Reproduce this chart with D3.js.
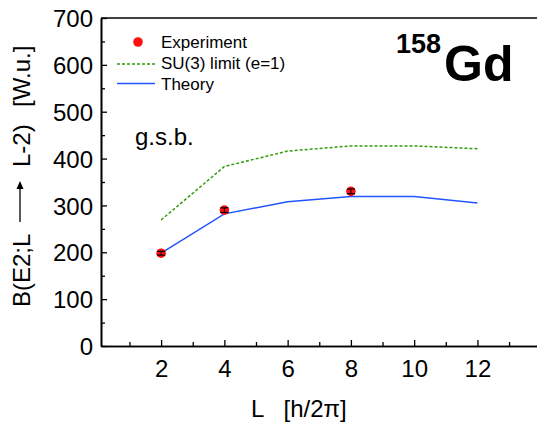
<!DOCTYPE html>
<html>
<head>
<meta charset="utf-8">
<script src="https://cdn.jsdelivr.net/npm/d3@7"></script>
<style>
  html, body { margin: 0; padding: 0; background: #fff; }
  svg { display: block; font-family: "Liberation Sans", Arial, sans-serif; }
</style>
</head>
<body>
<svg id="chart" width="537" height="423"></svg>
<script>
// ---- data ----
const expL = [2, 4, 8];
const expB = [198, 290, 330];
const expErr = [4, 5, 5];

const theoryL = [2, 4, 6, 8, 10, 12];
const theoryB = [198, 282, 308, 319, 319, 305];

const su3L = [2, 4, 6, 8, 10, 12];
const su3B = [269, 383, 416, 427, 427, 421];

const xTickValues = [2, 4, 6, 8, 10, 12];
const xMinorTicks = [1, 3, 5, 7, 9, 11, 13];
const yTickValues = [0, 100, 200, 300, 400, 500, 600, 700];
const yMinorTicks = [50, 150, 250, 350, 450, 550, 650];

const legendLabels = ["Experiment", "SU(3) limit (e=1)", "Theory"];

// ---- layout ----
const svg = d3.select("#chart");
const mLeft = 101, mTop = 18, mBottom = 346;
const x = d3.scaleLinear().domain([0.1, 14]).range([mLeft, 540.7]);
const y = d3.scaleLinear().domain([0, 700]).range([mBottom, mTop]);

const blue = "#2255ff";
const green = "#2f9e0a";

// axes (ticks inward)
const xAxis = svg.append("g").attr("transform", `translate(0,${mBottom})`)
  .call(d3.axisBottom(x).tickValues(xTickValues).tickSizeInner(-6).tickSizeOuter(0).tickPadding(14));
const xMinor = svg.append("g").attr("transform", `translate(0,${mBottom})`)
  .call(d3.axisBottom(x).tickValues(xMinorTicks).tickSizeInner(-4).tickSizeOuter(0).tickFormat(""));
const yAxis = svg.append("g").attr("transform", `translate(${mLeft},0)`)
  .call(d3.axisLeft(y).tickValues(yTickValues).tickSizeInner(-6).tickSizeOuter(0).tickPadding(8));
const yMinor = svg.append("g").attr("transform", `translate(${mLeft},0)`)
  .call(d3.axisLeft(y).tickValues(yMinorTicks).tickSizeInner(-4).tickSizeOuter(0).tickFormat(""));

[xAxis, xMinor, yAxis, yMinor].forEach(g => {
  g.selectAll(".domain").attr("stroke", "#000").attr("stroke-width", 1.6);
  g.selectAll(".tick line").attr("stroke", "#000").attr("stroke-width", 1.3);
  g.selectAll(".tick text").attr("font-size", 24).attr("fill", "#000")
    .attr("font-family", "'Liberation Sans', Arial, sans-serif");
});
yAxis.selectAll(".tick text").attr("dy", "0.36em");

// top frame line
svg.append("line").attr("x1", mLeft).attr("x2", 537).attr("y1", mTop).attr("y2", mTop)
  .attr("stroke", "#000").attr("stroke-width", 1.6);

// lines
const lineGen = d3.line().x(d => x(d[0])).y(d => y(d[1]));
svg.append("path").datum(su3L.map((l, i) => [l, su3B[i]]))
  .attr("d", lineGen).attr("fill", "none").attr("stroke", green)
  .attr("stroke-width", 1.5).attr("stroke-dasharray", "3,2");
svg.append("path").datum(theoryL.map((l, i) => [l, theoryB[i]]))
  .attr("d", lineGen).attr("fill", "none").attr("stroke", blue).attr("stroke-width", 1.5);

// experiment points with error bars
const pts = svg.append("g");
expL.forEach((l, i) => {
  const cx = x(l), cy = y(expB[i]);
  pts.append("circle").attr("cx", cx).attr("cy", cy).attr("r", 4.8).attr("fill", "#ff1010");
  const y1 = y(expB[i] - expErr[i]), y2 = y(expB[i] + expErr[i]);
  pts.append("line").attr("x1", cx).attr("x2", cx).attr("y1", y1).attr("y2", y2)
    .attr("stroke", "#000").attr("stroke-width", 1);
  [y1, y2].forEach(yy => pts.append("line").attr("x1", cx - 4).attr("x2", cx + 4)
    .attr("y1", yy).attr("y2", yy).attr("stroke", "#000").attr("stroke-width", 1.2));
});

// legend
const lg = svg.append("g").attr("font-size", 17);
lg.append("circle").attr("cx", 138).attr("cy", 42).attr("r", 4.8).attr("fill", "#ff1010");
lg.append("line").attr("x1", 117).attr("x2", 155).attr("y1", 64).attr("y2", 64)
  .attr("stroke", green).attr("stroke-width", 1.5).attr("stroke-dasharray", "3,2");
lg.append("line").attr("x1", 117).attr("x2", 155).attr("y1", 83.5).attr("y2", 83.5)
  .attr("stroke", blue).attr("stroke-width", 1.5);
[48, 69, 90].forEach((by, i) => lg.append("text").attr("x", 161).attr("y", by).text(legendLabels[i]));

// annotations
svg.append("text").attr("x", 135).attr("y", 145).attr("font-size", 24).text("g.s.b.");
const iso = svg.append("text").attr("font-weight", "bold");
iso.append("tspan").attr("x", 396).attr("y", 53).attr("font-size", 27).text("158");
iso.append("tspan").attr("x", 444).attr("y", 81).attr("font-size", 50).text("Gd");

// x axis title
svg.append("text").attr("x", 251).attr("y", 417).attr("font-size", 24)
  .attr("xml:space", "preserve").style("white-space", "pre").text("L   [h/2\u03C0]");

// y axis title (rotated)
const yt = svg.append("g").attr("transform", "translate(30,307) rotate(-90)");
const ytt = yt.append("text").attr("font-size", 24);
ytt.append("tspan").attr("x", 0).attr("y", 0).text("B(E2;L");
ytt.append("tspan").attr("x", 140).attr("y", 0).text("L-2)");
ytt.append("tspan").attr("x", 200).attr("y", 0).text("[W.u.]");
yt.append("line").attr("x1", 85).attr("x2", 122).attr("y1", -10).attr("y2", -10)
  .attr("stroke", "#000").attr("stroke-width", 1.3);
yt.append("path").attr("d", "M126,-10 L118,-13.5 L118,-6.5 Z").attr("fill", "#000");
</script>
</body>
</html>
